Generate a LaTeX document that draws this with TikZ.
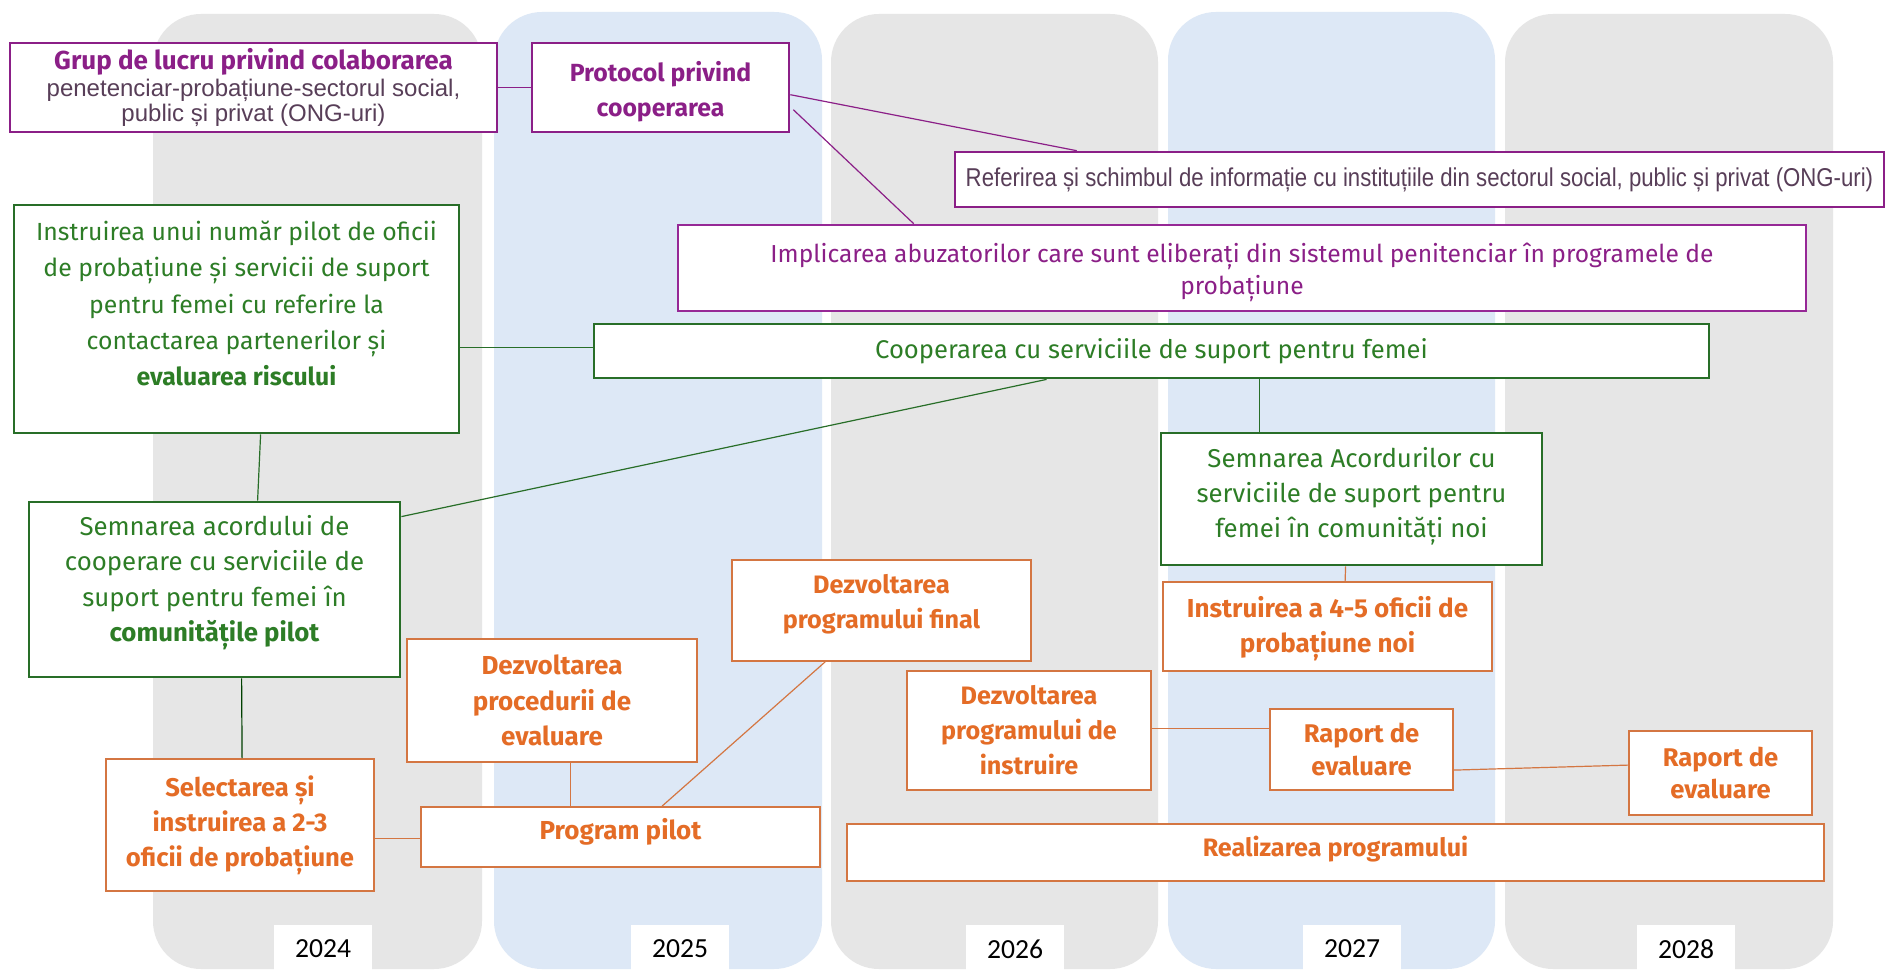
\documentclass[tikz,border=0pt]{standalone}
\usepackage{fontspec}
\setmainfont{Fira Sans}
\newfontfamily\arialf{Liberation Sans}
\newfontfamily\arialn[FakeStretch=0.86]{Liberation Sans}
\newfontfamily\yearfont{Carlito}
\usetikzlibrary{calc}
\definecolor{cpurple}{RGB}{139,31,135}
\definecolor{cpurpleb}{RGB}{150,40,150}
\definecolor{ctxtp}{RGB}{88,62,88}
\definecolor{cgreen}{RGB}{40,110,40}
\definecolor{cgreentxt}{RGB}{45,125,38}
\definecolor{corange}{RGB}{212,118,66}
\definecolor{corangetxt}{RGB}{228,108,38}
\definecolor{cgray}{RGB}{230,230,230}
\definecolor{cblue}{RGB}{221,232,246}
\newcommand\dn[1]{\rule[-#1pt]{0pt}{#1pt}}
\newcommand\upr[1]{\rule{0pt}{#1pt}}
\tikzset{
  colgray/.style={fill=cgray, rounded corners=24pt},
  colblue/.style={fill=cblue, rounded corners=24pt},
  wh/.style 2 args={minimum width=#1*0.5pt, minimum height=#2*0.5pt},
  yearbox/.style={fill=white, inner sep=0pt, minimum width=49pt, minimum height=24pt, font=\yearfont\fontsize{13.8}{16}\selectfont, text=black},
  pbox/.style={draw=cpurple, line width=1.3pt, fill=white, inner sep=0pt, align=center},
  gbox/.style={draw=cgreen, line width=1.4pt, fill=white, inner sep=0pt, align=center, text=cgreentxt},
  obox/.style={draw=corange, line width=0.9pt, fill=white, inner sep=0pt, align=center, text=corangetxt},
  pline/.style={draw=cpurple, line width=0.6pt},
  gline/.style={draw=cgreen, line width=0.6pt},
  kline/.style={draw=black!75!green, line width=0.6pt},
  oline/.style={draw=corange, line width=0.6pt},
}
\begin{document}
\begin{tikzpicture}[x=0.5pt,y=-0.5pt]
\useasboundingbox (0,0) rectangle (1888,972);
\fill[white] (0,0) rectangle (1888,972);
% columns
\fill[colgray] (153,14) rectangle (482,969);
\fill[colblue] (494,12) rectangle (822,969);
\fill[colgray] (831,14) rectangle (1158,969);
\fill[colblue] (1168,12) rectangle (1495,969);
\fill[colgray] (1505,14) rectangle (1833,969);
% years
\node[yearbox] (y24) at (323,949) {2024};
\node[yearbox] (y25) at (680,949) {2025};
\node[yearbox] (y26) at (1015,949) {2026};
\node[yearbox] (y27) at (1352,949) {2027};
\node[yearbox] (y28) at (1686,949) {2028};

% purple nodes
\node[pbox, wh={487}{89}] (P1) at (253.5,87.5) {\fontsize{13}{15}\selectfont\bfseries\color{cpurple}Grup de lucru privind colaborarea\\[1.6pt]
 \arialf\mdseries\fontsize{12}{14.5}\selectfont\color{ctxtp}penetenciar-probațiune-sectorul social,\\[0.2pt]
 \arialf\mdseries\fontsize{12}{14.5}\selectfont\color{ctxtp}public și privat (ONG-uri)};
\node[pbox, wh={257}{89}, font=\fontsize{12.4}{17.5}\selectfont\bfseries, text=cpurple] (P2) at (660.5,87.5) {\upr{13.8}Protocol privind\\cooperarea};
\node[pbox, wh={929}{55}, font=\arialn\fontsize{12.9}{15}\selectfont, text=ctxtp] (P3) at (1419.5,179.5) {Referirea și schimbul de informație cu instituțiile din sectorul social, public și privat (ONG-uri)};
\node[pbox, draw=cpurpleb, wh={1128}{86}, font=\fontsize{12.3}{15.7}\selectfont, text=cpurple] (P4) at (1242,268) {\upr{14}Implicarea abuzatorilor care sunt eliberați din sistemul penitenciar în programele de\\probațiune};

% green nodes
\node[gbox, wh={445}{228}, font=\fontsize{12.4}{18.2}\selectfont] (G1) at (236.5,319) {Instruirea unui număr pilot de oficii\\de probațiune și servicii de suport\\pentru femei cu referire la\\contactarea partenerilor și\\\bfseries evaluarea riscului\dn{15.6}};
\node[gbox, wh={1115}{54}, font=\fontsize{12.8}{15}\selectfont] (G2) at (1151.5,351) {Cooperarea cu serviciile de suport pentru femei};
\node[gbox, wh={371}{175}, font=\fontsize{12.9}{17.6}\selectfont] (G3) at (214.5,589.5) {Semnarea acordului de\\cooperare cu serviciile de\\suport pentru femei în\\\bfseries comunitățile pilot\dn{11}};
\node[gbox, wh={381}{132}, font=\fontsize{12.9}{17.5}\selectfont] (G4) at (1351.5,499) {Semnarea Acordurilor cu\\serviciile de suport pentru\\femei în comunități noi\dn{6.5}};

% orange nodes
\node[obox, wh={268}{132}, font=\fontsize{12.8}{17.5}\selectfont\bfseries] (O1) at (240,825) {Selectarea și\\instruirea a 2-3\\oficii de probațiune};
\node[obox, wh={290}{123}, font=\fontsize{13}{17.8}\selectfont\bfseries] (O2) at (552,700.5) {Dezvoltarea\\procedurii de\\evaluare};
\node[obox, wh={399}{60}, font=\fontsize{13}{15}\selectfont\bfseries] (O3) at (620.5,837) {Program pilot\dn{8.5}};
\node[obox, wh={299}{101}, font=\fontsize{12.6}{17.5}\selectfont\bfseries] (O4) at (881.5,610.5) {Dezvoltarea\\programului final\dn{9}};
\node[obox, wh={329}{89}, font=\fontsize{13}{17.6}\selectfont\bfseries] (O5) at (1327.5,626.5) {\upr{13}Instruirea a 4-5 oficii de\\probațiune noi};
\node[obox, wh={244}{119}, font=\fontsize{12.6}{17.5}\selectfont\bfseries] (O6) at (1029,730.5) {Dezvoltarea\\programului de\\instruire};
\node[obox, wh={183}{81}, font=\fontsize{12.8}{16.9}\selectfont\bfseries] (O7) at (1361.5,749.5) {Raport de\\evaluare};
\node[obox, wh={183}{84}, font=\fontsize{12.8}{16.4}\selectfont\bfseries] (O8) at (1720.5,773) {Raport de\\evaluare};
\node[obox, wh={977}{57}, font=\fontsize{12.6}{15}\selectfont\bfseries] (O9) at (1335.5,852.5) {Realizarea programului\dn{6}};

% purple connectors
\draw[pline] (P1.east) -- (P2.west);
\draw[pline] ($(P2.north east)+(0,53)$) -- ($(P3.north west)+(123,0)$);
\draw[pline] ($(P2.north east)+(3,68)$) -- ($(P4.north west)+(237,0)$);
% green connectors
\draw[gline] ($(G1.north east)+(0,144)$) -- ($(G2.north west)+(0,25)$);
\draw[gline] ($(G1.south west)+(248,0)$) -- ($(G3.north west)+(230,0)$);
\draw[gline] ($(G3.north east)+(0,16)$) -- ($(G2.south west)+(454,0)$);
\draw[gline] ($(G2.south west)+(667,0)$) -- ($(G4.north west)+(100,0)$);
\draw[kline] ($(G3.south west)+(214,0)$) -- ($(O1.north west)+(137,0)$);
% orange connectors
\draw[oline] ($(O1.north east)+(0,80)$) -- ($(O3.north west)+(0,32)$);
\draw[oline] ($(O2.south west)+(164,0)$) -- ($(O3.north west)+(150,0)$);
\draw[oline] ($(O3.north west)+(242,0)$) -- ($(O4.south west)+(94,0)$);
\draw[oline] ($(G4.south west)+(186,0)$) -- ($(O5.north west)+(183,0)$);
\draw[oline] ($(O6.north east)+(0,58)$) -- ($(O7.north west)+(0,20)$);
\draw[oline] ($(O7.north east)+(0,62)$) -- ($(O8.north west)+(0,35)$);
\end{tikzpicture}
\end{document}
